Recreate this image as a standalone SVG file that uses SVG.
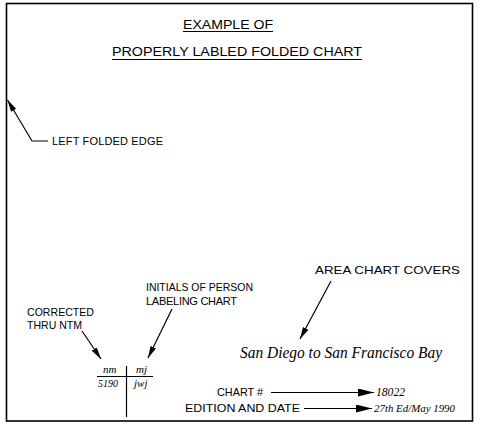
<svg xmlns="http://www.w3.org/2000/svg" width="480" height="424" viewBox="0 0 480 424">
<defs>
<marker id="ah" viewBox="0 0 12 6" refX="12" refY="3" markerWidth="12" markerHeight="6" markerUnits="userSpaceOnUse" orient="auto">
<path d="M0,0 L12,3 L0,6 Z" fill="#000"/>
</marker>
<marker id="ahb" viewBox="0 0 16 8" refX="16" refY="4" markerWidth="16" markerHeight="8" markerUnits="userSpaceOnUse" orient="auto">
<path d="M0,0 L16,4 L0,8 Z" fill="#000"/>
</marker>
</defs>
<style>
.t{font-family:"Liberation Sans",Arial,sans-serif;font-size:11px;fill:#000}
.h{font-family:"Liberation Sans",Arial,sans-serif;font-size:13.5px;fill:#000}
.s{font-family:"Liberation Serif","Times New Roman",serif;font-style:italic;fill:#000}
.l{stroke:#000;stroke-width:1.2;fill:none}
</style>
<rect x="0" y="0" width="480" height="424" fill="#fff"/>
<rect x="6.5" y="3.5" width="466" height="417.5" fill="none" stroke="#000" stroke-width="1.6"/>

<g id="title">
<text class="h" x="228" y="29" text-anchor="middle" textLength="90" lengthAdjust="spacingAndGlyphs">EXAMPLE OF</text>
<line class="l" x1="183" y1="31.5" x2="273" y2="31.5"/>
<text class="h" x="237" y="56" text-anchor="middle" textLength="250" lengthAdjust="spacingAndGlyphs">PROPERLY LABLED FOLDED CHART</text>
<line class="l" x1="112" y1="59.5" x2="362" y2="59.5"/>
</g>

<g id="left-edge">
<text class="t" x="52" y="145" textLength="111" lengthAdjust="spacing">LEFT FOLDED EDGE</text>
</g>

<g id="corrected">
<text class="t" x="27" y="316" textLength="67" lengthAdjust="spacingAndGlyphs">CORRECTED</text>
<text class="t" x="27" y="329" textLength="55" lengthAdjust="spacingAndGlyphs">THRU NTM</text>
</g>

<g id="initials">
<text class="t" x="146" y="291" textLength="107" lengthAdjust="spacingAndGlyphs">INITIALS OF PERSON</text>
<text class="t" x="146" y="305" textLength="91" lengthAdjust="spacing">LABELING CHART</text>
</g>

<g id="label-block">
<line class="l" x1="97" y1="376.5" x2="153" y2="376.5"/>
<line class="l" x1="126.5" y1="366" x2="126.5" y2="417"/>
<text class="s" x="103" y="373" font-size="11">nm</text>
<text class="s" x="136" y="373" font-size="11">mj</text>
<text class="s" x="98" y="387" font-size="10" font-style="normal">5190</text>
<text class="s" x="134" y="387" font-size="11">jwj</text>
</g>

<g id="area">
<text class="t" x="315" y="274" textLength="145" lengthAdjust="spacingAndGlyphs">AREA CHART COVERS</text>
<text class="s" x="240" y="358" font-size="16" textLength="202" lengthAdjust="spacingAndGlyphs">San Diego to San Francisco Bay</text>
</g>

<g id="chart-no">
<text class="t" x="263" y="396" text-anchor="end" textLength="46" lengthAdjust="spacingAndGlyphs">CHART #</text>
<text class="s" x="376" y="396" font-size="12" font-style="normal" textLength="29" lengthAdjust="spacingAndGlyphs">18022</text>
</g>

<g id="edition">
<text class="t" x="300" y="412" text-anchor="end" textLength="115" lengthAdjust="spacingAndGlyphs">EDITION AND DATE</text>
<text class="s" x="374" y="412" font-size="11" textLength="81" lengthAdjust="spacingAndGlyphs">27th Ed/May 1990</text>
</g>

<g id="connectors">
<polyline class="l" points="48,141 32,141 7.5,100" marker-end="url(#ah)"/>
<line class="l" x1="82" y1="331" x2="101" y2="359" marker-end="url(#ah)"/>
<line class="l" x1="172" y1="309" x2="148" y2="358" marker-end="url(#ah)"/>
<line class="l" x1="331" y1="281" x2="300" y2="339" marker-end="url(#ah)"/>
<line class="l" x1="271" y1="392.5" x2="374" y2="392.5" marker-end="url(#ahb)"/>
<line class="l" x1="304" y1="408.5" x2="372" y2="408.5" marker-end="url(#ahb)"/>
</g>
</svg>
